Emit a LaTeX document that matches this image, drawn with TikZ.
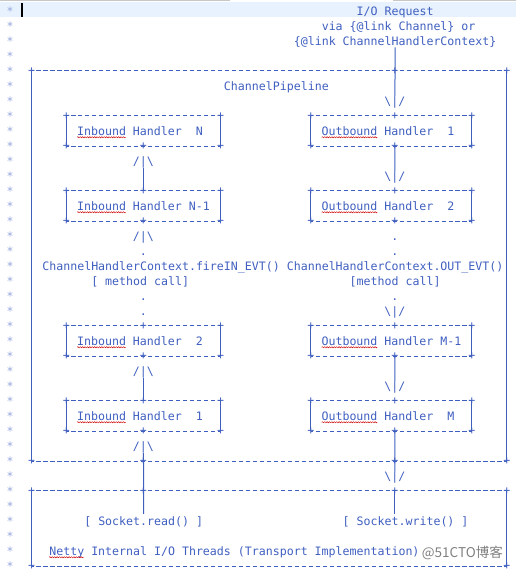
\documentclass[tikz,border=0pt]{standalone}
\usepackage{fontspec}
\usetikzlibrary{decorations.pathmorphing}
\newfontfamily\jdocmono{DejaVu Sans Mono}
\newfontfamily\wmfont{Noto Sans CJK SC}
\definecolor{jdoc}{HTML}{3F5FBF}
\definecolor{curline}{HTML}{E8F2FE}
\tikzset{jdoc/.style     = {font=\jdocmono\fontsize{11.6bp}{15bp}\selectfont, text=jdoc, inner sep=0pt},
	txt/.style      = {jdoc, anchor=base west},
	glyph/.style    = {jdoc, anchor=base},
	cross/.style    = {jdoc, anchor=center},
	frame/.style    = {jdoc, rectangle, minimum width=474.98bp},
	handler/.style  = {jdoc, rectangle, minimum height=30bp, text height=8.6bp, text depth=0pt,
		inner xsep=10.4775bp, align=flush left},
	inbox/.style    = {handler, text width=132.715bp},
	outbox/.style   = {handler, text width=139.7bp},
	hline/.style    = {draw=jdoc, line width=0.9bp, dash pattern=on 4.2bp off 2.785bp, dash phase=2.1bp},
	vline/.style    = {draw=jdoc, line width=1bp},
	squiggle/.style = {draw=red!80!black, line width=0.45bp, decorate,
		decoration={snake, amplitude=0.6bp, segment length=2.4bp}}
}
\begin{document}
\begin{tikzpicture}[x=6.985bp, y=-15bp]
	\useasboundingbox (0bp,0bp) rectangle (516bp,-573bp);
	\fill[curline] (0bp,-1.7bp) rectangle (516bp,-17.3bp);
	\fill[black!22] (0bp,0bp) rectangle (230bp,-1.3bp);
	\fill[black!22] (393bp,0bp) rectangle (516bp,-1.3bp);
	\fill[black] (21bp,-3.3bp) rectangle (23bp,-17.3bp);
	\begin{scope}[shift={(31.7bp,-0.3bp)}]
		\foreach \r in {1,...,38}
			\node[glyph, text=jdoc!55] (star\r) at (-3.1,\r) {*};
		\node[txt] (req1) at (46.5,1) {I/O Request};
		\node[txt] (req2) at (41.5,2) {via \{@link Channel\} or};
		\node[txt] (req) at (37.5,3) {\{@link ChannelHandlerContext\}};

		\node[frame, minimum height=390bp] (pipe) at (34,17.713) {};
		\node[frame, minimum height=75bp] (io) at (34,35.213) {};
		\node[txt] (pipeTitle) at (27.5,6) {ChannelPipeline};

		\node[inbox] (inN) at (16,8.713) {Inbound Handler\ \ N};
		\node[inbox, below of=inN, node distance=75bp] (inNm1) {Inbound Handler N-1};
		\node[inbox, below of=inNm1, node distance=135bp] (in2) {Inbound Handler\ \ 2};
		\node[inbox, below of=in2, node distance=75bp] (in1) {Inbound Handler\ \ 1};
		\node[outbox, right of=inN, node distance=247.9675bp] (out1) {Outbound Handler\ \ 1};
		\node[outbox, right of=inNm1, node distance=247.9675bp] (out2) {Outbound Handler\ \ 2};
		\node[outbox, right of=in2, node distance=247.9675bp] (outMm1) {Outbound Handler M-1};
		\node[outbox, right of=in1, node distance=247.9675bp] (outM) {Outbound Handler\ \ M};

		\foreach \b in {inN,inNm1,in2,in1,out1,out2,outMm1,outM,pipe,io} {
			\draw[hline] (\b.north west) -- (\b.north east);
			\draw[hline] (\b.south west) -- (\b.south east);
			\draw[vline] (\b.north west) -- (\b.south west);
			\draw[vline] (\b.north east) -- (\b.south east);
			\foreach \a/\s in {north west/nw,north east/ne,south west/sw,south east/se}
				\node[cross] (\b-\s) at (\b.\a) {+};
		}
		\foreach \b in {inNm1,in2,in1}
			\node[cross] (\b-top) at (\b.north) {+};
		\foreach \b in {inN,inNm1,in2,in1}
			\node[cross] (\b-bot) at (\b.south) {+};
		\foreach \b in {out1,out2,outMm1,outM} {
			\node[cross] (\b-top) at ([xshift=3.4925bp]\b.north) {+};
			\node[cross] (\b-bot) at ([xshift=3.4925bp]\b.south) {+};
		}
		\node[cross] (pipe-out) at (pipe.north -| out1-top) {+};
		\node[cross] (pipe-rd) at (pipe.south -| in1-bot) {+};
		\node[cross] (pipe-wr) at (pipe.south -| outM-bot) {+};
		\node[cross] (io-rd) at (io.north -| in1-bot) {+};
		\node[cross] (io-wr) at (io.north -| outM-bot) {+};

		\foreach \n/\r in {up1/11,up2/16,up3/25,up4/30}
			\node[glyph] (\n) at (16,\r) {/|\textbackslash};
		\foreach \n/\r in {dn0/7,dn1/12,dn2/21,dn3/26,dn4/32}
			\node[glyph] (\n) at (52,\r) {\textbackslash|/};
		\foreach \r in {17,20,21}
			\node[glyph] (indot\r) at (16,\r) {.};
		\foreach \r in {16,17,20}
			\node[glyph] (outdot\r) at (52,\r) {.};

		\node[txt] (fireIn) at (1.5,18) {ChannelHandlerContext.fireIN\_EVT()};
		\node[txt] (outEvt) at (36.5,18) {ChannelHandlerContext.OUT\_EVT()};
		\node[txt] (inCall) at (8.5,19) {[ method call]};
		\node[txt] (outCall) at (45.5,19) {[method call]};
		\node[txt] (sockRead) at (7.5,35) {[ Socket.read() ]};
		\node[txt] (sockWrite) at (44.5,35) {[ Socket.write() ]};
		\node[txt] (nettyIo) at (2.5,37) {Netty Internal I/O Threads (Transport Implementation)};

		\draw[vline] (req.south) -- (dn0);
		\draw[vline] (out1-bot.center) -- (dn1);
		\draw[vline] (outMm1-bot.center) -- (dn3);
		\draw[vline] (outM-bot.center) -- (dn4);
		\draw[vline, shorten >=2.5bp] (io-wr.center) -- (sockWrite.north -| io-wr);
		\draw[vline] (inNm1-top.center) -- (up1);
		\draw[vline] (in1-top.center) -- (up3);
		\draw[vline, shorten <=2.5bp] (sockRead.north) -- (up4);

		\foreach \r in {9,14,23,28} {
			\draw[squiggle] (6.5,{\r+0.13}) -- (13.5,{\r+0.13});
			\draw[squiggle] (41.5,{\r+0.13}) -- (49.5,{\r+0.13});
		}
		\draw[squiggle] (2.5,37.13) -- (7.5,37.13);
	\end{scope}
	\node[font=\wmfont\fontsize{13.5bp}{13.5bp}\selectfont, text=black!50, inner sep=0pt,
		anchor=base east] (wm) at (503bp,-557bp) {@51CTO博客};
\end{tikzpicture}
\end{document}
